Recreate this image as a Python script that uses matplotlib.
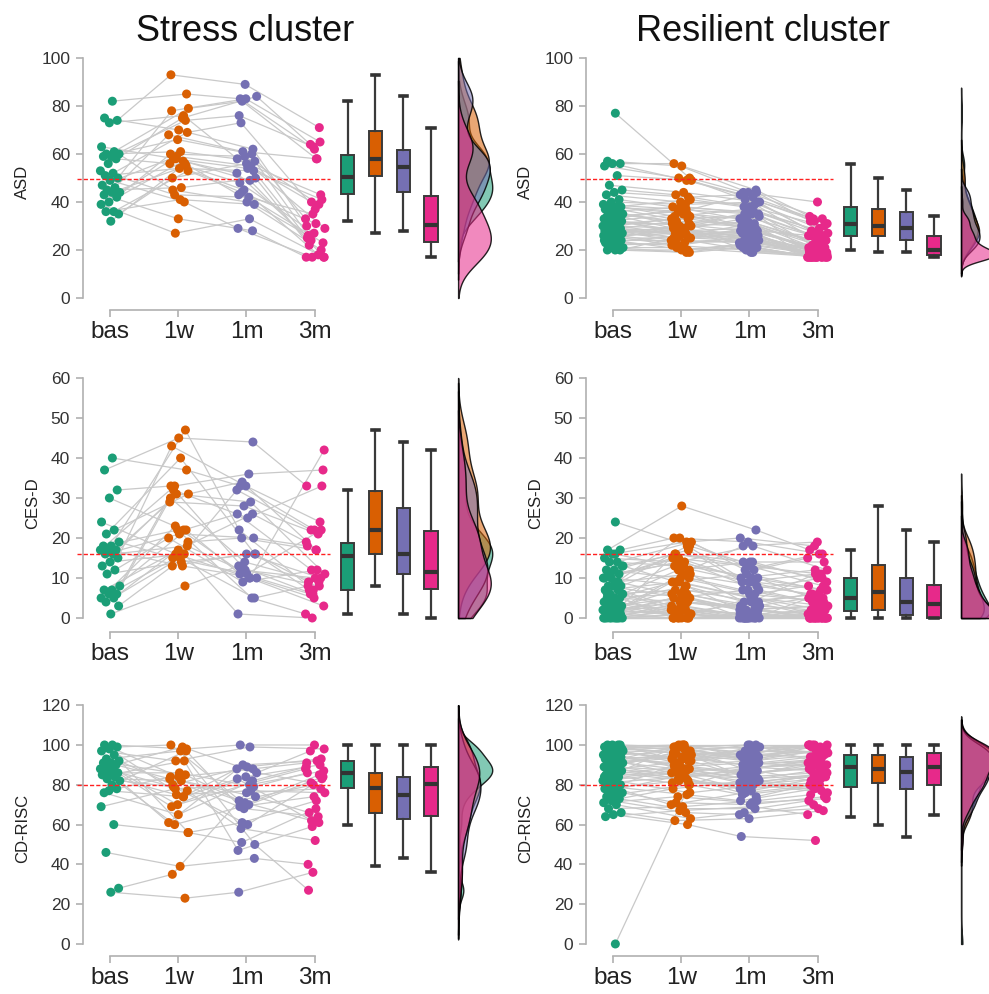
import numpy as np
import matplotlib
matplotlib.use('Agg')
import matplotlib.pyplot as plt
from matplotlib.colors import to_rgba

plt.rcParams['font.family'] = ['Liberation Sans', 'DejaVu Sans']

times = ['bas', '1w', '1m', '3m']
colors = ['#1B9E77', '#D95F02', '#7570B3', '#E7298A']

# ---- stress cluster (one entry per subject) ----
s_asd_bas = [82, 75, 74, 73, 63, 61, 60, 60, 59, 59, 58, 56, 53, 52, 51, 50, 49, 47, 46, 45, 44, 44, 43, 42, 40, 39, 36, 36, 35, 32]
s_asd_1w = [85, 70, 93, 76, 58, 79, 61, 45, 74, 66, 56, 75, 43, 69, 54, 78, 40, 59, 68, 46, 58, 55, 33, 60, 57, 27, 53, 41, 50, 56]
s_asd_1m = [83, 62, 89, 58, 49, 82, 57, 40, 76, 60, 45, 84, 42, 73, 53, 83, 29, 55, 61, 50, 54, 48, 28, 59, 52, 33, 44, 39, 56, 43]
s_asd_3m = [62, 30, 71, 40, 17, 58, 26, 20, 63, 33, 18, 64, 23, 37, 25, 65, 17, 29, 58, 22, 41, 27, 17, 39, 24, 17, 31, 26, 43, 35]

s_cesd_bas = [40, 37, 32, 30, 24, 22, 21, 19, 18, 18, 17, 17, 17, 16, 16, 15, 14, 13, 12, 11, 8, 7, 7, 6, 6, 5, 5, 4, 3, 1]
s_cesd_1w = [37, 45, 33, 22, 16, 31, 40, 15, 47, 22, 29, 13, 33, 18, 21, 43, 16, 31, 20, 14, 32, 22, 17, 30, 16, 23, 19, 15, 13, 8]
s_cesd_1m = [33, 44, 12, 26, 10, 34, 16, 11, 22, 5, 28, 10, 36, 12, 20, 33, 1, 29, 9, 16, 25, 11, 26, 14, 32, 10, 20, 5, 16, 13]
s_cesd_3m = [22, 33, 8, 12, 42, 17, 9, 22, 7, 1, 21, 6, 37, 10, 18, 24, 0, 11, 12, 7, 33, 5, 19, 9, 22, 3, 17, 8, 10, 6]

s_cd_bas = [100, 100, 99, 98, 97, 95, 93, 92, 91, 91, 90, 89, 88, 87, 86, 86, 85, 85, 84, 83, 82, 80, 76, 78, 77, 69, 60, 46, 28, 26]
s_cd_1w = [98, 84, 100, 74, 92, 56, 97, 80, 85, 70, 83, 99, 60, 77, 86, 69, 92, 75, 61, 82, 79, 97, 65, 84, 74, 78, 56, 39, 35, 23]
s_cd_1m = [100, 88, 70, 83, 99, 61, 50, 89, 72, 81, 68, 86, 70, 58, 79, 84, 47, 77, 90, 74, 60, 69, 82, 71, 88, 80, 51, 43, 76, 26]
s_cd_3m = [100, 91, 85, 62, 98, 72, 27, 93, 80, 88, 64, 97, 84, 52, 86, 90, 59, 76, 92, 66, 83, 74, 89, 61, 81, 87, 68, 40, 78, 36]

# ---- resilient cluster ----
r_asd_bas = [77, 57, 56, 56, 55, 51, 47, 45, 44, 43, 41, 40, 39, 38, 38, 38, 38, 37, 37, 36,
             35, 35, 34, 34, 33, 33, 32, 32, 32, 31, 31, 31, 30, 30, 30, 29, 29, 29, 28, 28,
             28, 27, 27, 27, 26, 26, 26, 25, 25, 24, 24, 23, 23, 22, 21, 20, 20, 20, 21, 24]
r_asd_1w = [50, 55, 56, 49, 50, 49, 44, 43, 42, 40, 38, 39, 37, 41, 36, 34, 35, 30, 33, 38,
            32, 31, 36, 29, 37, 28, 30, 35, 27, 33, 26, 31, 29, 25, 34, 28, 32, 26, 29, 24,
            27, 30, 25, 28, 23, 27, 22, 25, 29, 24, 20, 26, 22, 23, 21, 19, 20, 25, 19, 30]
r_asd_1m = [44, 45, 44, 43, 42, 41, 40, 38, 43, 39, 36, 40, 35, 38, 44, 37, 33, 36, 34, 35,
            31, 30, 29, 32, 33, 29, 35, 28, 27, 30, 31, 28, 34, 26, 29, 27, 24, 28, 25, 29,
            26, 22, 27, 24, 25, 23, 26, 24, 21, 23, 22, 25, 20, 24, 19, 21, 23, 20, 22, 19]
r_asd_3m = [40, 34, 33, 32, 31, 29, 28, 30, 27, 26, 25, 33, 24, 28, 32, 26, 23, 27, 25, 22,
            21, 24, 20, 23, 21, 19, 22, 26, 18, 20, 17, 21, 18, 19, 20, 17, 18, 19, 17, 20,
            17, 18, 17, 21, 17, 19, 17, 18, 17, 20, 17, 17, 18, 17, 17, 17, 19, 17, 17, 18]

r_cesd_bas = [24, 17, 17, 16, 15, 14, 14, 13, 12, 12, 11, 10, 10, 9, 8, 8, 8, 7, 7, 6,
              6, 5, 5, 5, 4, 4, 4, 3, 3, 3, 2, 2, 2, 2, 1, 1, 1, 1, 0, 0,
              0, 0, 0, 0, 0, 0, 0, 0, 1, 3, 5, 7, 9, 11, 13, 16, 6, 2, 4, 10]
r_cesd_1w = [18, 28, 20, 19, 14, 19, 13, 16, 17, 10, 15, 8, 14, 11, 5, 13, 18, 9, 3, 7,
             2, 10, 6, 0, 8, 12, 1, 5, 7, 0, 4, 9, 3, 1, 5, 2, 0, 6, 0, 2,
             4, 1, 0, 3, 0, 2, 0, 1, 11, 16, 4, 20, 6, 14, 9, 12, 0, 5, 0, 15]
r_cesd_1m = [14, 22, 19, 20, 18, 12, 10, 14, 9, 6, 13, 3, 10, 4, 2, 9, 10, 5, 0, 4,
             1, 7, 3, 0, 2, 14, 0, 1, 6, 0, 2, 11, 0, 4, 0, 1, 0, 3, 0, 0,
             2, 0, 1, 0, 0, 0, 5, 0, 8, 13, 3, 12, 2, 7, 5, 18, 0, 7, 1, 9]
r_cesd_3m = [10, 17, 16, 18, 12, 16, 5, 14, 11, 8, 11, 2, 7, 6, 0, 5, 12, 3, 1, 6,
             0, 4, 5, 0, 3, 9, 0, 2, 4, 0, 1, 7, 0, 0, 2, 0, 0, 0, 0, 1,
             0, 0, 0, 5, 0, 1, 0, 0, 6, 8, 11, 15, 3, 4, 2, 19, 0, 10, 0, 7]

r_cd_bas = [0, 100, 100, 100, 99, 99, 98, 98, 97, 97, 96, 96, 95, 95, 94, 94, 93, 93, 92, 92,
            91, 91, 90, 90, 89, 89, 88, 88, 87, 86, 85, 84, 83, 82, 82, 81, 80, 79, 78, 78,
            77, 76, 75, 74, 73, 72, 71, 70, 68, 66, 65, 64, 100, 99, 97, 95, 93, 90, 87, 84]
r_cd_1w = [80, 100, 99, 97, 100, 95, 100, 96, 92, 99, 94, 98, 90, 97, 93, 89, 95, 91, 86, 100,
           88, 94, 84, 96, 87, 83, 92, 85, 99, 82, 89, 81, 88, 86, 76, 84, 90, 75, 82, 70,
           85, 71, 80, 68, 78, 66, 74, 63, 69, 62, 60, 67, 93, 98, 91, 88, 94, 96, 83, 87]
r_cd_1m = [88, 100, 100, 95, 98, 97, 93, 100, 94, 96, 90, 99, 92, 88, 95, 91, 85, 97, 89, 94,
           83, 90, 86, 92, 81, 89, 84, 87, 93, 78, 85, 80, 82, 77, 79, 74, 86, 72, 80, 76,
           83, 70, 75, 68, 82, 65, 71, 66, 72, 63, 54, 69, 96, 91, 99, 87, 98, 95, 78, 81]
r_cd_3m = [92, 100, 98, 100, 100, 96, 99, 95, 97, 100, 93, 92, 98, 91, 94, 89, 90, 96, 87, 100,
           85, 92, 88, 95, 84, 90, 86, 82, 97, 80, 91, 83, 79, 84, 81, 80, 89, 78, 76, 80,
           87, 74, 79, 72, 77, 70, 73, 68, 75, 67, 52, 65, 99, 94, 96, 93, 100, 97, 85, 86]

scales = ['ASD', 'CES-D', 'CD-RISC']
cutoffs = [49.5, 16, 80]
yticks = [np.arange(0, 101, 20), np.arange(0, 61, 10), np.arange(0, 121, 20)]
ylims = [(-5, 102), (-3.5, 61), (-6, 122)]
titles = ['Stress cluster', 'Resilient cluster']

panels = {
    (0, 0): [s_asd_bas, s_asd_1w, s_asd_1m, s_asd_3m],
    (1, 0): [s_cesd_bas, s_cesd_1w, s_cesd_1m, s_cesd_3m],
    (2, 0): [s_cd_bas, s_cd_1w, s_cd_1m, s_cd_3m],
    (0, 1): [r_asd_bas, r_asd_1w, r_asd_1m, r_asd_3m],
    (1, 1): [r_cesd_bas, r_cesd_1w, r_cesd_1m, r_cesd_3m],
    (2, 1): [r_cd_bas, r_cd_1w, r_cd_1m, r_cd_3m],
}

W, H = 989, 994
col_left = [72.4, 575.4]
ax_w = 413
row_px = [(53.2, 310), (374, 632), (701.2, 955.9)]

box_pos = [4.48, 4.89, 5.30, 5.70]
dens_x0 = 6.1
spine_c = '#b0b0b0'


def kde(v, lo_clip, hi_clip):
    v = np.asarray(v, float)
    n = len(v)
    q75, q25 = np.percentile(v, [75, 25])
    sd = v.std(ddof=1)
    lo = min(sd, (q75 - q25) / 1.34) if q75 > q25 else sd
    bw = 0.9 * lo * n ** -0.2
    g = np.linspace(max(v.min() - 3 * bw, lo_clip), min(v.max() + 3 * bw, hi_clip), 400)
    d = np.exp(-0.5 * ((g[:, None] - v[None, :]) / bw) ** 2).sum(1) / (n * bw * np.sqrt(2 * np.pi))
    return g, d


fig = plt.figure(figsize=(W / 100, H / 100), dpi=100)

for (r, c), series in panels.items():
    top, bot = row_px[r]
    ax = fig.add_axes([col_left[c] / W, 1 - bot / H, ax_w / W, (bot - top) / H])
    ax.set_xlim(0.45, 6.5)
    ax.set_ylim(*ylims[r])
    n = len(series[0])
    xs = []
    for t in range(4):
        jit = (((np.arange(n) + 1) * 0.618034 + t * 0.29) % 1 - 0.5) * 0.30
        xs.append(t + 1 + jit)
    xs = np.array(xs)
    ys = np.array(series, float)
    for i in range(n):
        ax.plot(xs[:, i], ys[:, i], color='#c9c9c9', lw=0.9, zorder=1)
    for t in range(4):
        ax.scatter(xs[t], ys[t], s=42, color=colors[t], edgecolor='none', zorder=3)
    ax.plot([0.52, 4.22], [cutoffs[r]] * 2, color='#ff2020', lw=1.0, ls=(0, (3, 1.5)), zorder=4)

    bp = ax.boxplot(series, positions=box_pos, widths=0.2, patch_artist=True,
                    showfliers=False, manage_ticks=False, capwidths=0.11,
                    boxprops=dict(edgecolor='#3a3a3a', lw=1.4),
                    medianprops=dict(color='#333333', lw=3),
                    whiskerprops=dict(color='#3a3a3a', lw=1.6),
                    capprops=dict(color='#333333', lw=2.6))
    for patch, col in zip(bp['boxes'], colors):
        patch.set_facecolor(col)

    hi = yticks[r][-1]
    curves = [kde(v, 0, hi) for v in series]
    dmax = max(d.max() for g, d in curves)
    for (g, d), col in zip(curves, colors):
        ax.fill_betweenx(g, dens_x0, dens_x0 + d / dmax * 0.5, facecolor=to_rgba(col, 0.55),
                         edgecolor=(0, 0, 0, 0.85), lw=1.0, clip_on=False, zorder=2)

    for s in ['top', 'right']:
        ax.spines[s].set_visible(False)
    ax.spines['left'].set_position(('data', 0.6))
    ax.spines['left'].set_bounds(0, hi)
    ax.spines['bottom'].set_bounds(1, 4)
    for s in ['left', 'bottom']:
        ax.spines[s].set_color(spine_c)
        ax.spines[s].set_linewidth(1.2)
    ax.set_yticks(yticks[r])
    ax.set_xticks([1, 2, 3, 4])
    ax.set_xticklabels(times)
    ax.tick_params(axis='y', labelsize=12.5, length=5, width=1.2, color=spine_c, labelcolor='#333333', pad=4)
    ax.tick_params(axis='x', labelsize=17.5, length=5, width=1.2, color=spine_c, labelcolor='#222222', pad=3)
    ax.set_ylabel(scales[r], fontsize=12, color='#222222', labelpad=8)
    ax.patch.set_alpha(0)

fig.text(0.248, 0.968, titles[0], fontsize=26, ha='center', va='center', color='#111111')
fig.text(0.771, 0.968, titles[1], fontsize=26, ha='center', va='center', color='#111111')

fig.savefig('out.png', dpi=100)
